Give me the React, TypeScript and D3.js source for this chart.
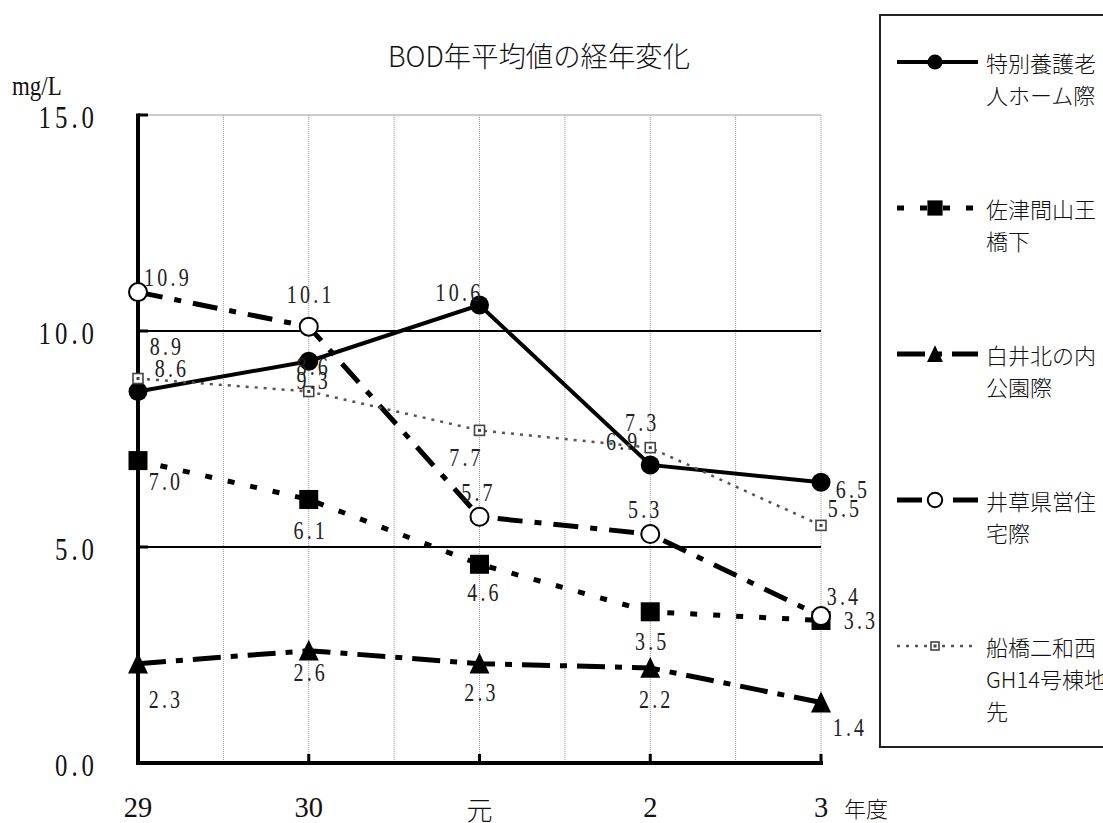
import React from 'react';
import * as d3 from 'd3';

const categories = ['29', '30', '元', '2', '3'];
const yTicks = [0, 5, 10, 15];
const seriesNames = [
  ['特別養護老', '人ホーム際'],
  ['佐津間山王', '橋下'],
  ['白井北の内', '公園際'],
  ['井草県営住', '宅際'],
  ['船橋二和西', 'GH14号棟地', '先'],
];
const s1 = [8.6, 9.3, 10.6, 6.9, 6.5];
const s2 = [7.0, 6.1, 4.6, 3.5, 3.3];
const s3 = [2.3, 2.6, 2.3, 2.2, 1.4];
const s4 = [10.9, 10.1, 5.7, 5.3, 3.4];
const s5 = [8.9, 8.6, 7.7, 7.3, 5.5];
const seriesValues = [s1, s2, s3, s4, s5];

// label offsets (style, per point)
const labelOffsets = [
  [[32, -23], [3, 19], [-22, -12], [-29, -23], [30, 8]],
  [[26, 21], [0, 31], [3, 28], [0, 30], [38, 0]],
  [[26, 36], [0, 22], [0, 29], [4, 32], [27, 25]],
  [[28, -14], [0, -32], [-3, -24], [-7, -24], [21, -19]],
  [[27, -32], [3, -25], [-15, 27], [-10, -25], [22, -17]],
];

const styles = [
  { dash: 'none', width: 4, color: '#000', marker: 'fcircle' },
  { dash: '7,16', width: 5, color: '#000', marker: 'fsquare' },
  { dash: '28,10,7,10', width: 5, color: '#000', marker: 'triangle' },
  { dash: '25,12,7,12', width: 5, color: '#000', marker: 'ocircle' },
  { dash: '3,6', width: 2.5, color: '#555', marker: 'osquare' },
];

const NUM_FONT = '"Liberation Serif", "DejaVu Serif", serif';
const CJK_FONT = '"Noto Sans CJK JP", "Noto Sans", sans-serif';

function NumText({ x, y, size, anchor = 'middle', spacing = 0, sx = 0.8, fill = '#111', children }: any) {
  return (
    <text
      transform={`translate(${x},${y}) scale(${sx},1)`}
      textAnchor={anchor}
      dominantBaseline="central"
      fontFamily={NUM_FONT}
      fontSize={size}
      letterSpacing={spacing}
      fill={fill}
    >
      {children}
    </text>
  );
}

function Marker({ type, x, y, s = 1 }: { type: string; x: number; y: number; s?: number }) {
  if (type === 'fcircle') return <circle cx={x} cy={y} r={9.5 * s} fill="#000" />;
  if (type === 'fsquare') {
    const h = 9.5 * s;
    return <rect x={x - h} y={y - h} width={2 * h} height={2 * h} fill="#000" />;
  }
  if (type === 'triangle') {
    const w = 10 * s, h = 11 * s;
    return <path d={`M${x},${y - h}L${x + w},${y + h * 0.9}L${x - w},${y + h * 0.9}Z`} fill="#000" />;
  }
  if (type === 'ocircle') return <circle cx={x} cy={y} r={9 * s} fill="#fff" stroke="#000" strokeWidth={2} />;
  const h = 5 * s;
  return (
    <g>
      <rect x={x - h} y={y - h} width={2 * h} height={2 * h} fill="#fff" stroke="#444" strokeWidth={1.6} />
      <rect x={x - 1.5} y={y - 1.5} width={3} height={3} fill="#444" />
    </g>
  );
}

export default function App() {
  const left = 138, right = 821, top = 115, bottom = 763;
  const x = d3.scalePoint<string>().domain(categories).range([left, right]);
  const xi = d3.scaleLinear().domain([0, categories.length - 1]).range([left, right]);
  const y = d3.scaleLinear().domain([0, 15]).range([bottom, top]);
  const fmt = d3.format('.1f');
  const line = d3.line<number>().x((_, i) => x(categories[i]) as number).y((d) => y(d));
  const halfTicks = d3.range(0, categories.length - 1 + 0.01, 0.5);
  const legendY = (i: number) => 62 + i * 146;

  return (
    <svg width={1103} height={823} style={{ position: 'absolute', left: 0, top: 0, background: '#fff' }}>
      <rect width={1103} height={823} fill="#fff" />
      {/* title */}
      <text x={388} y={67} fontFamily={CJK_FONT} fontSize={28} fontWeight={300} textLength={302} lengthAdjust="spacingAndGlyphs" fill="#111">
        BOD年平均値の経年変化
      </text>
      <NumText x={12} y={86} size={27} anchor="start" sx={0.85}>mg/L</NumText>

      {/* vertical grid */}
      {halfTicks.map((t) => (
        <line key={'v' + t} x1={xi(t)} x2={xi(t)} y1={top} y2={bottom} stroke="#999" strokeWidth={1} strokeDasharray="1,1" />
      ))}
      {/* horizontal grid */}
      <line x1={left} x2={right} y1={y(15)} y2={y(15)} stroke="#bbb" strokeWidth={1.5} />
      {[5, 10].map((v) => (
        <line key={'h' + v} x1={left} x2={right} y1={y(v)} y2={y(v)} stroke="#000" strokeWidth={2} />
      ))}

      {/* axes */}
      <line x1={left} x2={left} y1={top - 1.5} y2={bottom + 2} stroke="#000" strokeWidth={4} />
      <line x1={left - 2} x2={right + 2} y1={bottom} y2={bottom} stroke="#000" strokeWidth={4} />
      {[5, 10, 15].map((v) => (
        <line key={'yt' + v} x1={left} x2={left + 10} y1={y(v)} y2={y(v)} stroke="#000" strokeWidth={3} />
      ))}
      {categories.map((c) => (
        <line key={'xt' + c} x1={x(c)} x2={x(c)} y1={bottom} y2={bottom - 9} stroke="#000" strokeWidth={3} />
      ))}
      {yTicks.map((v) => (
        <NumText key={'yl' + v} x={98} y={y(v) + 3} size={31} anchor="end" spacing={5}>
          {fmt(v)}
        </NumText>
      ))}
      {categories.map((c) =>
        c === '元' ? (
          <text key={'xl' + c} x={x(c)} y={808} textAnchor="middle" dominantBaseline="central" fontFamily={CJK_FONT} fontSize={26} fontWeight={300} fill="#111">
            {c}
          </text>
        ) : (
          <NumText key={'xl' + c} x={x(c)} y={807} size={30} sx={0.95}>
            {c}
          </NumText>
        )
      )}
      <text x={844} y={807} dominantBaseline="central" fontFamily={CJK_FONT} fontSize={22} fontWeight={300} fill="#111">年度</text>

      {/* series lines */}
      {seriesValues.map((vals, si) => (
        <path key={'l' + si} d={line(vals) as string} fill="none" stroke={styles[si].color} strokeWidth={styles[si].width} strokeDasharray={styles[si].dash} />
      ))}
      {/* markers */}
      {seriesValues.map((vals, si) => (
        <g key={'m' + si}>
          {vals.map((v, i) => (
            <Marker key={i} type={styles[si].marker} x={x(categories[i]) as number} y={y(v)} />
          ))}
        </g>
      ))}
      {/* labels */}
      {seriesValues.map((vals, si) => (
        <g key={'t' + si}>
          {vals.map((v, i) => (
            <NumText key={i} x={(x(categories[i]) as number) + labelOffsets[si][i][0] + 2} y={y(v) + labelOffsets[si][i][1]} size={25} spacing={4} fill="#222">
              {fmt(v)}
            </NumText>
          ))}
        </g>
      ))}

      {/* legend */}
      <rect x={880} y={15} width={260} height={732} fill="#fff" stroke="#222" strokeWidth={2} />
      {seriesNames.map((lines, si) => {
        const ly = legendY(si);
        const st = styles[si];
        return (
          <g key={'lg' + si}>
            <line x1={897} x2={978} y1={ly} y2={ly} stroke={st.color} strokeWidth={st.width} strokeDasharray={st.dash} />
            <Marker type={st.marker} x={935} y={ly} s={0.8} />
            {lines.map((t, li) => (
              <text key={li} x={986} y={ly + li * 32} dominantBaseline="central" fontFamily={CJK_FONT} fontSize={22} fontWeight={300} fill="#111">
                {t}
              </text>
            ))}
          </g>
        );
      })}
    </svg>
  );
}
